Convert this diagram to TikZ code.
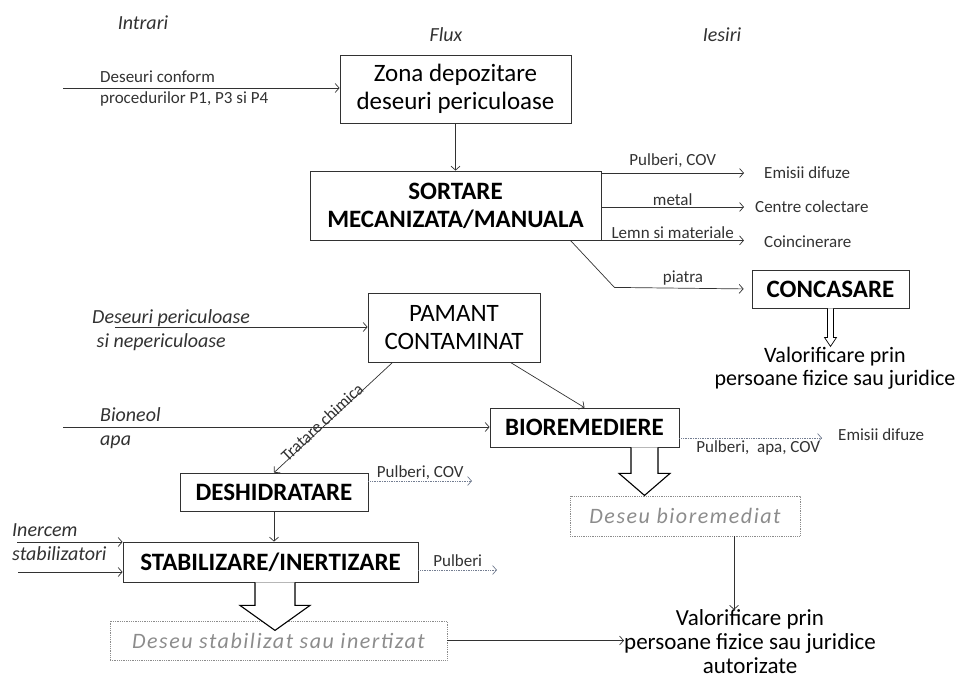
\documentclass[tikz,border=0pt]{standalone}
\usepackage{fontspec}
\setmainfont{Carlito}
\newfontfamily\spacedfont[LetterSpace=7]{Carlito}
\usepackage{tikz}
\usetikzlibrary{arrows.meta, positioning}
\usepackage{xcolor}
\definecolor{inkgray}{RGB}{50,50,50}
\definecolor{fadegray}{RGB}{140,140,140}
\definecolor{dotgray}{RGB}{115,125,145}

\begin{document}
\begin{tikzpicture}[x=1pt, y=-1pt,
    proc/.style={draw=inkgray, line width=0.8pt, inner sep=0pt, align=center, text=black,
        font=\fontsize{25}{28}\selectfont},
    procbold/.style={proc, font=\fontsize{25}{28}\selectfont\bfseries},
    result/.style={draw=fadegray, densely dotted, line width=0.8pt, inner sep=0pt, text=fadegray,
        font=\fontsize{22}{24}\spacedfont\itshape},
    lbl/.style={font=\fontsize{17}{21}\selectfont, text=inkgray, inner sep=1pt},
    itlbl/.style={font=\fontsize{20}{24}\selectfont\itshape, text=inkgray, align=left, inner sep=0pt},
    valtext/.style={font=\fontsize{22}{23}\selectfont, text=black, align=center, inner sep=0pt},
    arr/.style={draw=inkgray, line width=0.7pt, -{Straight Barb[length=4pt,width=9pt]}},
    dotarr/.style={arr, draw=dotgray, densely dotted},
    hollow/.style={draw=black, line width=1.1pt, fill=white, line join=miter}]
            \useasboundingbox (0,0) rectangle (957,678);

            \node[itlbl] (intrari) at (143,23) {Intrari};
            \node[itlbl] (flux) at (446,35) {Flux};
            \node[itlbl] (iesiri) at (722,35) {Iesiri};

            \node[proc, minimum width=231, minimum height=68] (zona) at (455.5,89) {Zona depozitare\\deseuri periculoase};
            \node[procbold, minimum width=291, minimum height=69] (sortare) at (455.5,205.5) {SORTARE\\MECANIZATA/MANUALA};
            \node[procbold, minimum width=157, minimum height=38] (concasare) at (830.5,289) {CONCASARE};
            \node[proc, minimum width=172, minimum height=69] (pamant) at (454,327.5) {PAMANT\\CONTAMINAT};
            \node[procbold, minimum width=189, minimum height=39] (biorem) at (584.5,427.5) {BIOREMEDIERE};
            \node[procbold, minimum width=188, minimum height=38] (deshid) at (274,492) {DESHIDRATARE};
            \node[procbold, minimum width=295, minimum height=40] (stabil) at (270.5,562) {STABILIZARE/INERTIZARE};
            \node[result, minimum width=337, minimum height=39] (desstab) at (278.5,640.5) {Deseu stabilizat sau inertizat};
            \node[result, minimum width=230, minimum height=40] (desbio) at (685,516) {Deseu bioremediat};

            \node[lbl, align=left, anchor=west] (deseuriin) at (99,89) {Deseuri conform\\procedurilor P1, P3 si P4};
            \node[itlbl, anchor=west] (deseuriper) at (92,330) {Deseuri periculoase\\\ si nepericuloase};
            \node[itlbl, anchor=west] (bioneol) at (100,428) {Bioneol\\apa};
            \node[itlbl, anchor=west] (inercem) at (12,542) {Inercem\\stabilizatori};

            \node[lbl, anchor=west] (emisii1) at (763,173) {Emisii difuze};
            \node[lbl, anchor=west] (centre) at (754,207) {Centre colectare};
            \node[lbl, anchor=west] (coinc) at (763,242) {Coincinerare};
            \node[lbl, anchor=west] (emisii2) at (837,435) {Emisii difuze};

            \node[valtext] (valor1) at (835,368) {Valorificare prin\\persoane fizice sau juridice};
            \node[valtext, font=\fontsize{23}{24}\selectfont] (valor2) at (750,642) {Valorificare prin\\persoane fizice sau juridice\\autorizate};

            \coordinate (in1) at (63,88);
            \coordinate (in2) at (115,327);
            \coordinate (in3) at (63,427);
            \coordinate (in4) at (17,542);
            \coordinate (in5) at (18,572);
            \coordinate (outx) at (744,0);
            \coordinate (dsout) at (472,481);
            \coordinate (stout) at (497,570);

            \draw[arr] (in1) -- (in1 -| zona.west);
            \draw[arr] (zona) -- (sortare);

            \draw[arr] (sortare.east |- emisii1) -- (outx |- emisii1) node[lbl, midway, above=4pt] {Pulberi, COV};
            \draw[arr] (sortare.east |- centre) -- (outx |- centre) node[lbl, midway, above=0pt] {metal};
            \draw[arr] (sortare.south east) -- (outx |- sortare.south east) node[lbl, midway, above=0pt] {Lemn si materiale};
            \draw[arr, shorten >=8pt] ([xshift=-31pt]sortare.south east) -- ++(44,47) -- (concasare.west) node[lbl, midway, above=2pt] {piatra};

            \draw[hollow, line width=0.7pt] ([xshift=-3pt]concasare.south) -- ++(0,29) -- ++(-3,0) -- ++(6,9) -- ++(6,-9) -- ++(-3,0) -- ++(0,-29);

            \draw[arr] (in2) -- (in2 -| pamant.west);
            \draw[arr] ([xshift=25pt]pamant.south west) -- (deshid.north) node[lbl, sloped, pos=0.57, above=-3pt] {Tratare chimica};
            \draw[arr] ([xshift=-30pt]pamant.south east) -- (biorem.north);

            \draw[arr] (in3) -- (in3 -| biorem.west);
            \draw[dotarr, shorten >=15pt] ([yshift=-10.5pt]biorem.east) -- ([yshift=-10.5pt]biorem.east -| emisii2.west) node[lbl, midway, below=1pt] {Pulberi,~ apa, COV};
            \draw[hollow] ([xshift=46.5pt]biorem.south) -- ++(0,26) -- ++(-12,0) -- ++(25.5,22) -- ++(25.5,-22) -- ++(-12,0) -- ++(0,-26);

            \draw[dotarr] (deshid.east |- dsout) -- (dsout) node[lbl, midway, above=0pt] {Pulberi, COV};
            \draw[arr] (deshid.south) -- (deshid.south |- stabil.north);

            \draw[arr] (in4) -- (in4 -| stabil.west);
            \draw[arr] (in5) -- (in5 -| stabil.west);
            \draw[dotarr] (stabil.east |- stout) -- (stout) node[lbl, midway, above=2pt] {Pulberi};
            \draw[hollow] ([xshift=-15.5pt]stabil.south) -- ++(0,23) -- ++(-15,0) -- ++(35,25) -- ++(35,-25) -- ++(-15,0) -- ++(0,-23);

            \draw[arr] ([xshift=49pt]desbio.south) -- ([xshift=49pt]desbio.south |- valor2.north);
            \draw[arr] (desstab.east) -- (desstab.east -| valor2.west);
        \end{tikzpicture}
\end{document}
